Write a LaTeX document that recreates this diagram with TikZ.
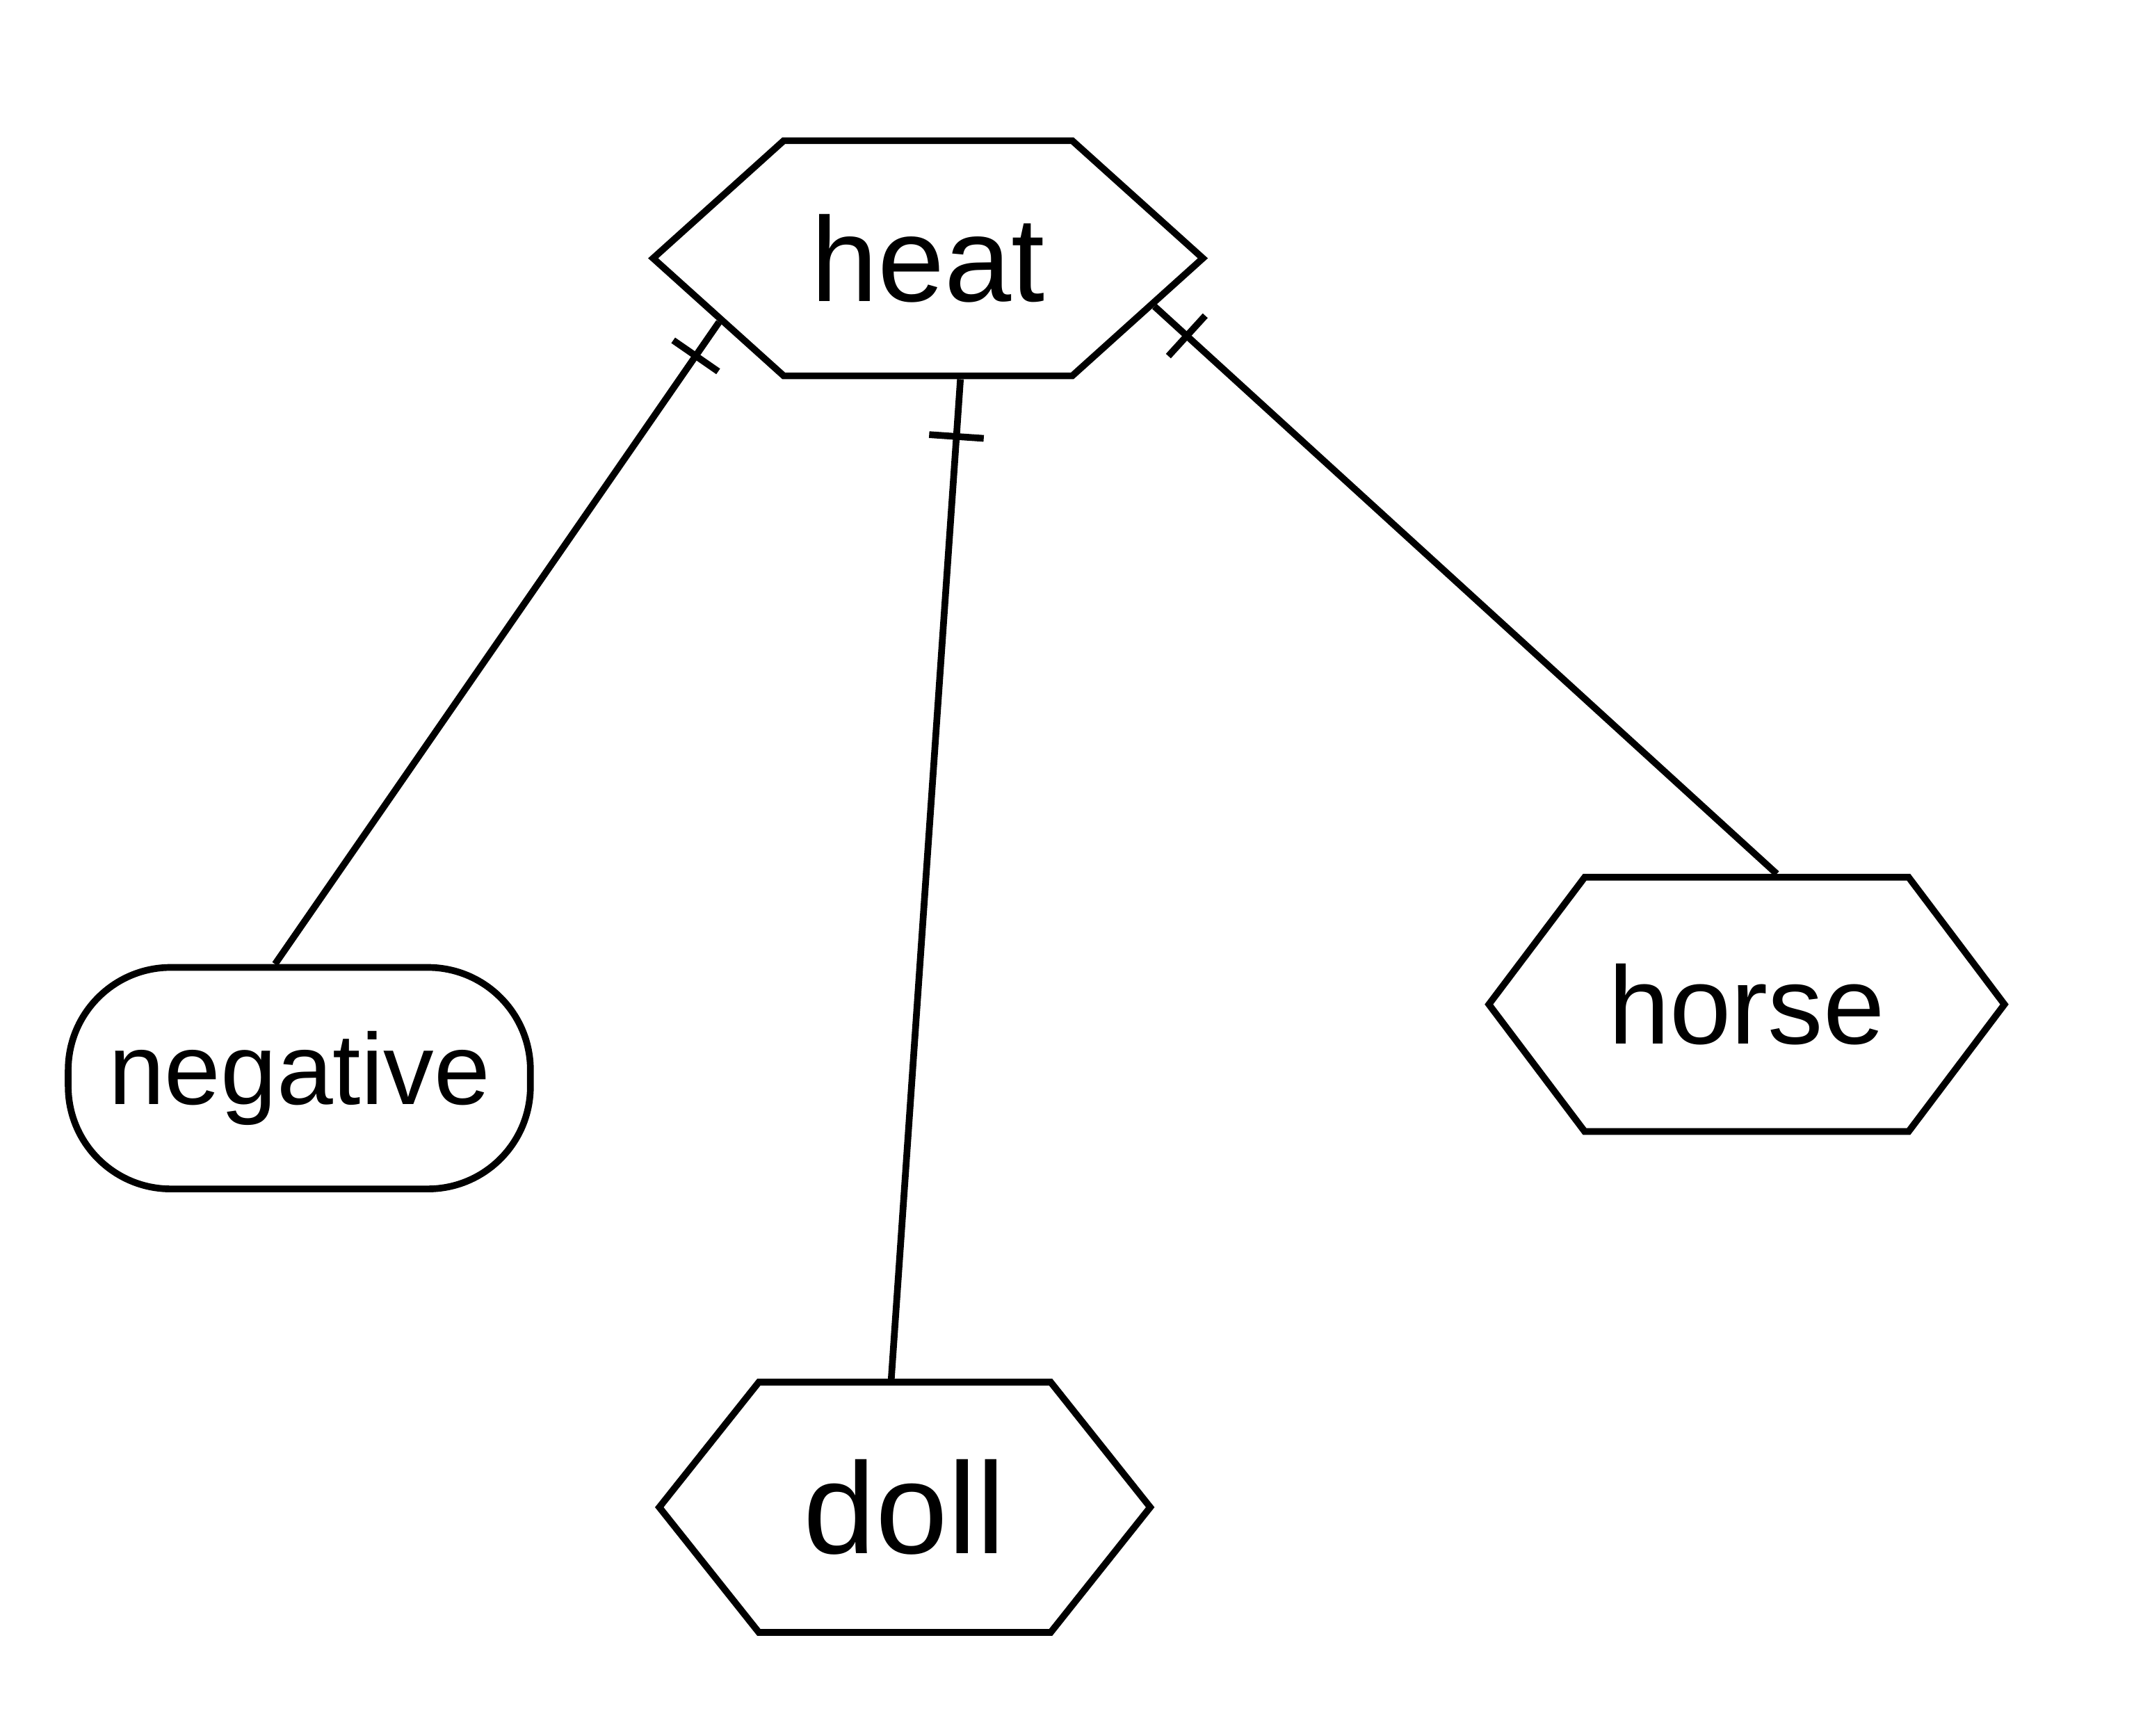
\documentclass[tikz,border=0pt]{standalone}
\usepackage{fontspec}
\setmainfont{Liberation Sans}
\usetikzlibrary{shapes.symbols,decorations.markings}
\begin{document}
\begin{tikzpicture}[x=0.01cm,y=-0.01cm,
  box/.style={draw,line width=1.4pt,inner sep=0pt},
  hexbox/.style={box,signal,signal to=east and west},
  roundbox/.style={box,rectangle,rounded corners=0.75cm},
  lbl/.style={font=\fontsize{#1}{#1}\selectfont},
  edge/.style={line width=1.4pt},
  tickmark/.style={postaction={decorate},decoration={markings,
     mark=at position #1 with {\draw[line width=1.4pt] (0,-0.2cm) -- (0,0.2cm);}}}
]
\useasboundingbox (0,0) rectangle (1568,1270);
\node[hexbox,signal pointer angle=84,minimum width=4.02cm,minimum height=1.72cm,lbl=25] (heat) at (679,189) {heat};
\node[roundbox,minimum width=3.38cm,minimum height=1.62cm,lbl=21] (neg) at (219,789) {negative};
\node[hexbox,signal pointer angle=106,minimum width=3.77cm,minimum height=1.86cm,lbl=23] (horse) at (1278,735) {horse};
\node[hexbox,signal pointer angle=103,minimum width=3.59cm,minimum height=1.83cm,lbl=27] (doll) at (662,1103) {doll};
\draw[edge,tickmark=0.3cm] (heat.-163) -- (neg.102);
\draw[edge,tickmark=0.42cm] (heat.-75) -- (doll.96);
\draw[edge,tickmark=0.32cm] (heat.-12) -- (horse.77);
\end{tikzpicture}
\end{document}
